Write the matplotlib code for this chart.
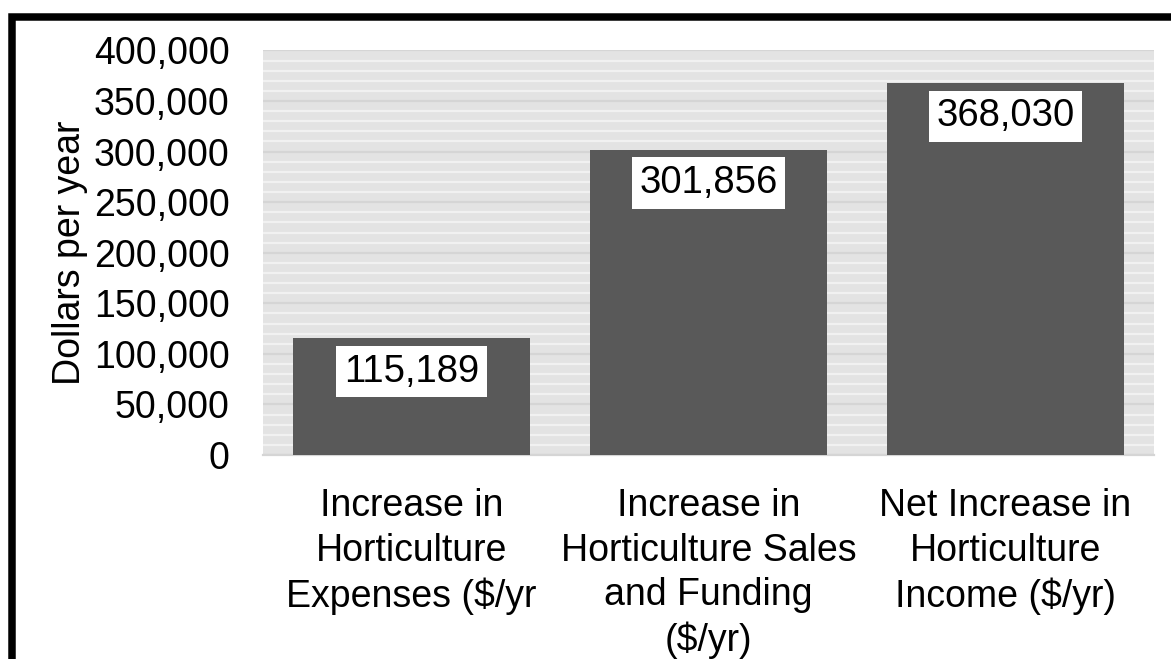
import matplotlib
matplotlib.use("Agg")
import matplotlib.pyplot as plt
from matplotlib.patches import Rectangle
from matplotlib.ticker import MultipleLocator, FuncFormatter

plt.rcParams['font.family'] = ['Liberation Sans', 'DejaVu Sans']

# data
categories = ["Increase in\nHorticulture\nExpenses ($/yr",
              "Increase in\nHorticulture Sales\nand Funding\n($/yr)",
              "Net Increase in\nHorticulture\nIncome ($/yr)"]
values = [115189, 301856, 368030]
labels = ["115,189", "301,856", "368,030"]

fig = plt.figure(figsize=(11.71, 6.59), dpi=100)
ax = fig.add_axes([0.2246, 0.3096, 0.7609, 0.6138])

# plot area pattern
ax.set_facecolor('#e3e3e3')
ax.yaxis.set_major_locator(MultipleLocator(50000))
ax.yaxis.set_minor_locator(MultipleLocator(10000))
ax.grid(which='minor', axis='y', color='#f1f1f1', lw=1.6)
ax.grid(which='major', axis='y', color='#d5d5d5', lw=1.6)
ax.set_axisbelow(True)

x = range(len(values))
bars = ax.bar(x, values, width=0.8, color='#595959', zorder=3)

for i, v in enumerate(values):
    ax.annotate(labels[i], (i, v), xytext=(0, -24), textcoords='offset points',
                ha='center', va='center', fontsize=27.5, zorder=4,
                bbox=dict(boxstyle='square,pad=0.2', fc='white', ec='none'))

ax.set_xlim(-0.5, 2.5)
ax.set_ylim(0, 400000)
ax.yaxis.set_major_formatter(FuncFormatter(lambda v, p: f"{int(v):,}"))
ax.set_xticks(list(x))
ax.set_xticklabels(categories, fontsize=27, linespacing=1.3)
ax.tick_params(axis='y', which='both', length=0, labelsize=27, pad=24)
ax.tick_params(axis='x', length=0, pad=24)
ax.set_ylabel("Dollars per year", fontsize=27, labelpad=4.5)

for s in ['top', 'right', 'left']:
    ax.spines[s].set_visible(False)
ax.spines['bottom'].set_color('#d5d5d5')
ax.spines['bottom'].set_linewidth(1.6)

# outer border (runs off the right and bottom edges)
fig.patches.append(Rectangle((12 / 1171, -0.5), 2, 1.5 - 17 / 659,
                             transform=fig.transFigure, fill=False,
                             ec='black', lw=5.4))

fig.savefig("out.png", dpi=100, facecolor='white')
